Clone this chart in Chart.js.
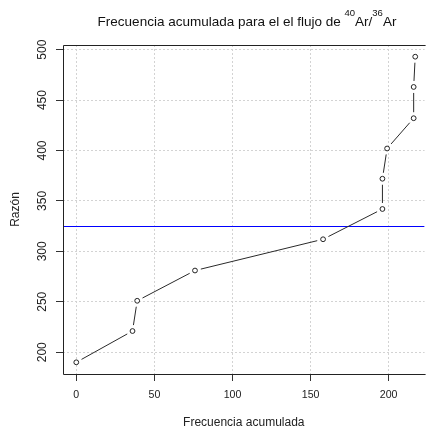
<!DOCTYPE html>
<html>
<head>
<meta charset="utf-8">
<script src="https://cdn.jsdelivr.net/npm/chart.js@4.4.1/dist/chart.umd.min.js"></script>
<style>
  html, body { margin: 0; padding: 0; background: #ffffff; }
  canvas { display: block; }
</style>
</head>
<body>
<canvas id="chart" width="428" height="435"></canvas>
<script>
// Cumulative frequency (x) against the 40Ar/36Ar ratio (y)
const cumulativeFreq = [0, 36, 39, 76, 158, 196, 196, 199, 216, 216, 217];
const ratio = [190, 221, 251, 281, 312, 342, 372, 402, 432, 463, 493];
// Horizontal reference level
const referenceRatio = 325;
// Axis ticks
const xTickValues = [0, 50, 100, 150, 200];
const yTickValues = [200, 250, 300, 350, 400, 450, 500];
// Title pieces: plain text and superscripts
const titleSegments = ['Frecuencia acumulada para el el flujo de ', '40', 'Ar/', '36', 'Ar'];
const titleIsSup = [false, true, false, true, false];

const FONT = "'Liberation Sans', Arial, Helvetica, sans-serif";
Chart.defaults.font.family = FONT;
Chart.defaults.color = '#222';

const points = cumulativeFreq.map((x, i) => ({ x: x, y: ratio[i] }));

// Reference line (under the data) and the plot frame (top, left, bottom)
const framePlugin = {
  id: 'frame',
  beforeDatasetsDraw(chart) {
    const { ctx, chartArea: a, scales: { y } } = chart;
    ctx.save();
    ctx.beginPath();
    ctx.rect(a.left, a.top, a.right - a.left, a.bottom - a.top);
    ctx.clip();
    const yy = Math.round(y.getPixelForValue(referenceRatio)) + 0.5;
    ctx.strokeStyle = '#0000ff';
    ctx.lineWidth = 1;
    ctx.beginPath();
    ctx.moveTo(a.left, yy);
    ctx.lineTo(a.right, yy);
    ctx.stroke();
    ctx.restore();
  },
  afterDraw(chart) {
    const { ctx, chartArea: a } = chart;
    const l = Math.round(a.left) + 0.5;
    const t = Math.round(a.top) + 0.5;
    const b = Math.round(a.bottom) + 0.5;
    ctx.save();
    ctx.strokeStyle = '#222';
    ctx.lineWidth = 1;
    ctx.beginPath();
    ctx.moveTo(a.right + 1, t);
    ctx.lineTo(l, t);
    ctx.lineTo(l, b);
    ctx.lineTo(a.right + 1, b);
    ctx.stroke();
    ctx.restore();
  }
};

// Connecting segments that stop short of each point marker
const GAP = 6;
const gapLinePlugin = {
  id: 'gapLines',
  beforeDatasetDraw(chart, args) {
    if (args.index !== 0) return;
    const ctx = chart.ctx;
    const pts = args.meta.data;
    ctx.save();
    ctx.strokeStyle = '#2a2a2a';
    ctx.lineWidth = 1;
    for (let i = 0; i < pts.length - 1; i++) {
      const p = pts[i], q = pts[i + 1];
      const dx = q.x - p.x, dy = q.y - p.y;
      const len = Math.hypot(dx, dy);
      if (len <= 2 * GAP) continue;
      const ux = dx / len, uy = dy / len;
      ctx.beginPath();
      ctx.moveTo(p.x + ux * GAP, p.y + uy * GAP);
      ctx.lineTo(q.x - ux * GAP, q.y - uy * GAP);
      ctx.stroke();
    }
    ctx.restore();
  }
};

// Title with superscript isotope masses
const titlePlugin = {
  id: 'supTitle',
  afterDraw(chart) {
    const ctx = chart.ctx;
    const mainFont = '13.5px ' + FONT;
    const supFont = '9.5px ' + FONT;
    const baseline = 26;
    const supRaise = 10.5;
    ctx.save();
    let total = 0;
    const widths = titleSegments.map((s, i) => {
      ctx.font = titleIsSup[i] ? supFont : mainFont;
      const w = ctx.measureText(s).width;
      total += w;
      return w;
    });
    let x = 247 - total / 2;
    ctx.fillStyle = '#111';
    ctx.textAlign = 'left';
    ctx.textBaseline = 'alphabetic';
    titleSegments.forEach((s, i) => {
      ctx.font = titleIsSup[i] ? supFont : mainFont;
      ctx.fillText(s, x, titleIsSup[i] ? baseline - supRaise : baseline);
      x += widths[i];
    });
    ctx.restore();
  }
};

new Chart(document.getElementById('chart'), {
  type: 'scatter',
  data: {
    datasets: [{
      data: points,
      showLine: false,
      pointRadius: 2.4,
      pointBorderWidth: 1,
      pointBorderColor: '#222',
      pointBackgroundColor: '#ffffff',
      pointHoverRadius: 2.4
    }]
  },
  options: {
    responsive: false,
    animation: false,
    events: [],
    layout: { padding: { top: 45, left: 0, right: 0, bottom: 0 } },
    plugins: {
      legend: { display: false },
      tooltip: { enabled: false },
      title: { display: false }
    },
    scales: {
      x: {
        type: 'linear',
        position: 'bottom',
        min: -8.5,
        max: 223,
        afterFit: s => { s.height = 61; },
        afterBuildTicks: s => { s.ticks = xTickValues.map(v => ({ value: v })); },
        grid: {
          color: '#d3d3d3',
          lineWidth: 1,
          tickLength: 7,
          tickColor: '#333',
          tickWidth: 1,
          tickBorderDash: []
        },
        border: { display: false, dash: [2, 2] },
        ticks: {
          font: { size: 10.6 },
          color: '#222',
          padding: 8,
          maxRotation: 0,
          minRotation: 0
        },
        title: {
          display: true,
          text: 'Frecuencia acumulada',
          font: { size: 12 },
          color: '#222',
          padding: { top: 0, bottom: 5 }
        }
      },
      y: {
        type: 'linear',
        position: 'left',
        min: 178.4,
        max: 504.6,
        afterFit: s => { s.width = 63; },
        afterBuildTicks: s => { s.ticks = yTickValues.map(v => ({ value: v })); },
        grid: {
          color: '#d3d3d3',
          lineWidth: 1,
          tickLength: 7,
          tickColor: '#333',
          tickWidth: 1,
          tickBorderDash: []
        },
        border: { display: false, dash: [2, 2] },
        ticks: {
          font: { size: 12 },
          color: '#222',
          padding: 3.5,
          minRotation: 90,
          maxRotation: 90,
          crossAlign: 'center'
        },
        title: {
          display: true,
          text: 'Razón',
          font: { size: 12 },
          color: '#222',
          padding: { top: 8, bottom: 0 }
        }
      }
    }
  },
  plugins: [framePlugin, gapLinePlugin, titlePlugin]
});
</script>
</body>
</html>
